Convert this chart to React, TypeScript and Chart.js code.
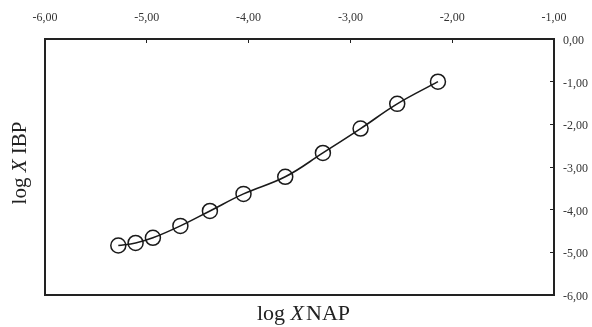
import React, { useEffect, useRef } from "react";
import { Chart, registerables } from "chart.js";

Chart.register(...registerables);

const xValues = [-5.28, -5.11, -4.94, -4.67, -4.38, -4.05, -3.64, -3.27, -2.9, -2.54, -2.14];
const yValues = [-4.84, -4.78, -4.66, -4.38, -4.03, -3.63, -3.23, -2.67, -2.1, -1.52, -1.0];
const xTitleParts = ["log ", "X", "NAP"];
const yTitleParts = ["log ", "X", " IBP"];

const SERIF = "'Liberation Serif', 'Times New Roman', serif";

const fmt = (v: number | string) => Number(v).toFixed(2).replace(".", ",");

function drawMixed(ctx: CanvasRenderingContext2D, parts: string[], size: number, gap: number) {
  const fonts = parts.map((_, i) => (i === 1 ? `italic ${size}px ${SERIF}` : `${size}px ${SERIF}`));
  const widths = parts.map((p, i) => {
    ctx.font = fonts[i];
    return ctx.measureText(p).width + (i === 1 ? gap : 0);
  });
  const total = widths.reduce((a, b) => a + b, 0);
  let x = -total / 2;
  parts.forEach((p, i) => {
    ctx.font = fonts[i];
    ctx.fillText(p, x, 0);
    x += widths[i];
  });
}

const titlePlugin = {
  id: "mixedTitles",
  afterDraw(chart: any) {
    const { ctx, chartArea } = chart;
    ctx.save();
    ctx.fillStyle = "#222";
    ctx.textBaseline = "middle";
    ctx.textAlign = "left";
    ctx.save();
    ctx.translate((chartArea.left + chartArea.right) / 2 + 4, 314);
    drawMixed(ctx, xTitleParts, 22, 2);
    ctx.restore();
    ctx.save();
    ctx.translate(20, (chartArea.top + chartArea.bottom) / 2 - 4);
    ctx.rotate(-Math.PI / 2);
    drawMixed(ctx, yTitleParts, 21, 0);
    ctx.restore();
    ctx.restore();
  },
};

export default function App() {
  const ref = useRef<HTMLCanvasElement | null>(null);
  useEffect(() => {
    document.body.style.margin = "0";
    if (!ref.current) return;
    const tickFont = { family: SERIF, size: 12 };
    const frame = { display: true, color: "#222", width: 2 };
    const chart = new Chart(ref.current, {
      type: "scatter",
      data: {
        datasets: [
          {
            data: xValues.map((x, i) => ({ x, y: yValues[i] })),
            showLine: true,
            tension: 0.4,
            borderColor: "#1a1a1a",
            borderWidth: 1.6,
            pointRadius: 7.5,
            pointBorderWidth: 1.5,
            pointBorderColor: "#1a1a1a",
            pointBackgroundColor: "rgba(0,0,0,0)",
            pointStyle: "circle",
            xAxisID: "x",
            yAxisID: "y",
          },
        ],
      },
      plugins: [titlePlugin],
      options: {
        animation: false,
        responsive: false,
        devicePixelRatio: 1,
        layout: { padding: 0 },
        plugins: { legend: { display: false }, tooltip: { enabled: false } },
        scales: {
          x: {
            type: "linear",
            position: "top",
            min: -6,
            max: -1,
            ticks: { stepSize: 1, callback: fmt, font: tickFont, color: "#333", padding: 18, maxRotation: 0 },
            grid: { drawOnChartArea: false, tickLength: -4, color: "#222", lineWidth: 1 },
            border: frame,
            afterFit: (s: any) => { s.height = 39; },
          },
          xb: {
            type: "linear",
            position: "bottom",
            min: -6,
            max: -1,
            ticks: { display: false },
            grid: { display: false },
            border: frame,
            afterFit: (s: any) => { s.height = 32; },
          },
          y: {
            type: "linear",
            position: "right",
            min: -6,
            max: 0,
            ticks: { stepSize: 1, callback: fmt, font: tickFont, color: "#333", padding: 13, labelOffset: 2 },
            grid: { drawOnChartArea: false, tickLength: -4, color: "#222", lineWidth: 1 },
            border: frame,
            afterFit: (s: any) => { s.width = 38; },
          },
          yl: {
            type: "linear",
            position: "left",
            min: -6,
            max: 0,
            ticks: { display: false },
            grid: { display: false },
            border: frame,
            afterFit: (s: any) => { s.width = 45; },
          },
        },
      } as any,
    });
    return () => chart.destroy();
  }, []);
  return (
    <div style={{ width: 592, height: 327, background: "#fff" }}>
      <canvas ref={ref} width={592} height={327} />
    </div>
  );
}
